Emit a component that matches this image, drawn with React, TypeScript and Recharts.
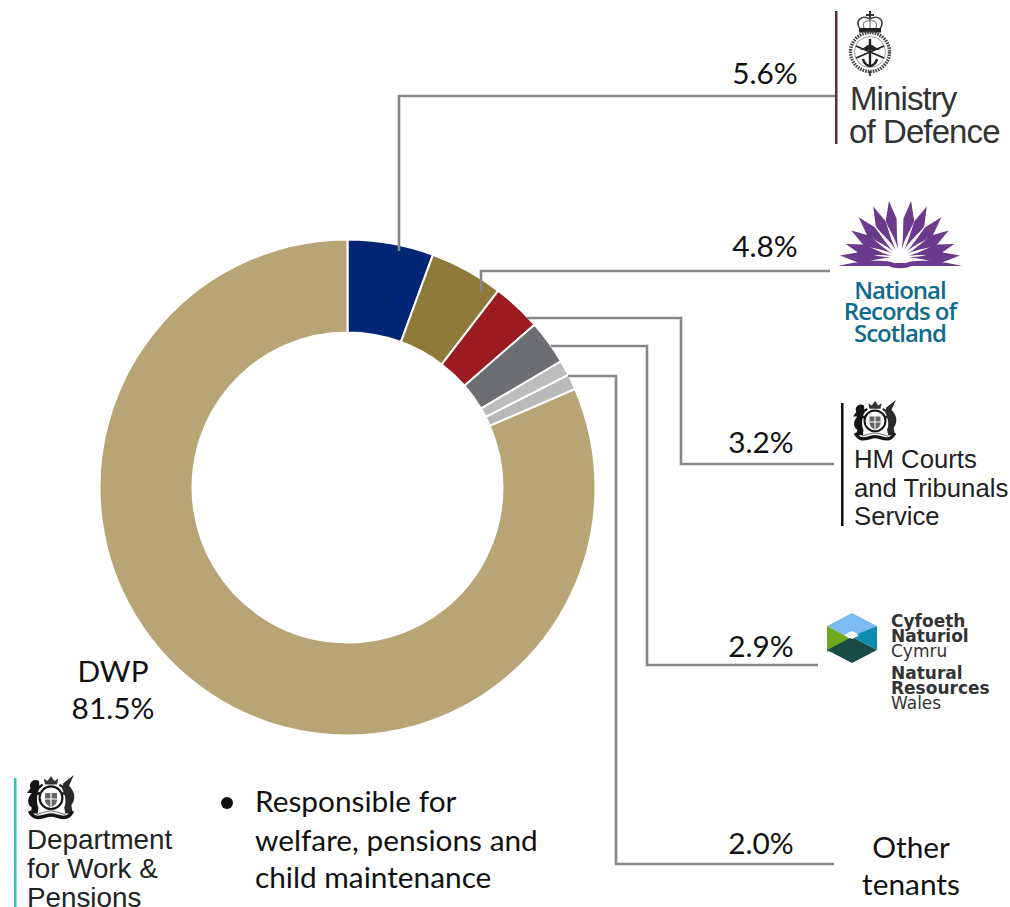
import React from "react";
import { PieChart, Pie, Cell } from "recharts";

// Occupancy share by tenant, in per cent
const tenants = ["Ministry of Defence", "National Records of Scotland", "HM Courts and Tribunals Service", "Natural Resources Wales", "Other tenants A", "Other tenants B", "DWP"];
const shares = [5.6, 4.8, 3.2, 2.9, 1.0, 1.0, 81.5];
const colours = ["#002776", "#8F7A3A", "#9B1C20", "#6D6E71", "#BCBEBC", "#B9B9B9", "#B8A576"];
const pieData = tenants.map((name, i) => ({ name, value: shares[i] }));

const LINE = "#86868A";
const INK = "#111";
const UI = "Lato, sans-serif";
const LOGO = "'Liberation Sans', Arial, sans-serif";

const pct = (v: number) => `${v.toFixed(1)}%`;

// Simplified royal coat of arms: garter and shield, crown, rearing lion and unicorn, motto ribbon
function RoyalArms({ x, y, s = 1 }: { x: number; y: number; s?: number }) {
  return (
    <g transform={`translate(${x} ${y}) scale(${s})`} fill="#141414">
      <path d="M-5 -12 L-6 -17 L-3 -15 L0 -19 L3 -15 L6 -17 L5 -12 Z" fill="#333" />
      <circle cx={0} cy={-1} r={9.5} fill="#fff" stroke="#141414" strokeWidth={1.8} />
      <path d="M-5 -5 H5 V1 C5 4 2 6 0 7 C-2 6 -5 4 -5 1 Z" fill="#666" />
      <path d="M0 -5 V7 M-5 0 H5" stroke="#fff" strokeWidth={1} />
      {/* lion */}
      <path d="M-10 -15 C-15 -18 -19 -13 -17 -9 L-20 -5 L-16 -5 C-20 -1 -20 5 -16 7 L-17 12 L-11 12 L-10.5 7 C-12.5 3 -12 -4 -9.5 -9 Z" />
      <path d="M-11 -9 L-7 -12 M-12 -4 L-9 -5" stroke="#141414" strokeWidth={2} />
      {/* unicorn */}
      <path d="M10 -13 L19 -20 L15 -11 C20 -6 21 0 17 5 L18 12 L12 12 L11 7 C13 3 12 -4 9.5 -8 Z" fill="#2a2a2a" />
      <path d="M11 -9 L7 -12 M12 -4 L9 -5" stroke="#2a2a2a" strokeWidth={2} />
      <path d="M-18 10 C-14 18 -8 15 -4 14 C-1 13 1 13 4 14 C8 15 14 18 18 10" fill="none" stroke="#141414" strokeWidth={3} />
      <path d="M-12 13 C-6 11 -3 10 0 10 C3 10 6 11 12 13" fill="none" stroke="#777" strokeWidth={1} />
    </g>
  );
}

// Simplified Ministry of Defence badge: crown over a rope ring with anchor and crossed arms
function DefenceBadge({ x, y }: { x: number; y: number }) {
  return (
    <g transform={`translate(${x} ${y})`}>
      <path d="M-1 -41 h2 v3 h3 v2 h-3 v3 h-2 v-3 h-3 v-2 h3 Z" fill="#333" />
      <path d="M-10 -23 C-16 -33 -7 -37 0 -33 C7 -37 16 -33 10 -23 Z" fill="#fff" stroke="#444" strokeWidth={1.6} />
      <path d="M-6 -24 C-8 -30 -4 -32 0 -31 C4 -32 8 -30 6 -24 M0 -33 V-24" fill="none" stroke="#666" strokeWidth={1} />
      <rect x={-11} y={-24} width={22} height={4.5} fill="#222" />
      <circle cx={0} cy={0} r={19.5} fill="none" stroke="#444" strokeWidth={3.4} strokeDasharray="1.6 1" />
      <circle cx={0} cy={0} r={15.5} fill="none" stroke="#888" strokeWidth={0.8} />
      <path d="M0 -13 V14 M-7 7 C-6 12 -2 14 0 14 C2 14 6 12 7 7 M-4 -5 H4" fill="none" stroke="#222" strokeWidth={2.4} />
      <path d="M-14 -6 L14 6 M14 -6 L-14 6" stroke="#222" strokeWidth={1.8} />
      <path d="M-10 -2 H10 L0 -8 Z" fill="#222" />
      <path d="M0 19 V24" stroke="#444" strokeWidth={2} />
    </g>
  );
}

// National Records of Scotland emblem: an open book with fanned purple leaves
const FAN_ANGLES = [-88, -76, -61, -46, -28, -11.5, 11.5, 28, 46, 61, 76, 88];
const FAN_LENGTHS = [60, 56, 56, 58, 58, 58, 58, 58, 58, 56, 56, 60];
function RecordsEmblem({ x, y }: { x: number; y: number }) {
  return (
    <g transform={`translate(${x} ${y})`} fill="#6B3A8C">
      {FAN_ANGLES.map((a, i) => {
        const l = FAN_LENGTHS[i];
        const side = a < 0 ? -1 : 1;
        return (
          <path
            key={a}
            transform={`rotate(${a})`}
            d={`M0 -9 C${side * 1} ${-l * 0.4} ${side * 6} ${-l * 0.55} ${side * 6.5} ${-l * 0.68} L${side * -0.5} ${-l} L${side * -4.5} ${-l * 0.68} C${side * -3} ${-l * 0.5} ${side * -1} ${-l * 0.4} 0 -9 Z`}
          />
        );
      })}
      <circle cx={0} cy={0} r={7} fill="#fff" />
      <path d="M-62 8 C-40 3 -15 1 -6 5 H6 C15 1 40 3 62 8 H11 C7 11 -7 11 -11 8 Z" />
    </g>
  );
}

// Natural Resources Wales hexagon mark
function WalesHexagon({ x, y }: { x: number; y: number }) {
  return (
    <g transform={`translate(${x} ${y})`}>
      <path d="M0 -25 L25 -12 L8 -3 L0 -7 L-8 -3 L-25 -12 Z" fill="#7DBBF5" />
      <path d="M25 -12 V12 L8 3 L0 -1 L8 -5 Z" fill="#0B8CB0" />
      <path d="M-25 -12 L-8 -3 L0 2 L-8 6 L-25 14 Z" fill="#6FAA1E" />
      <path d="M0 25 L-25 12 L0 -1 L25 12 Z" fill="#1A4A45" />
      <path d="M0 -6 L7 -2.5 L0 1 L-7 -2.5 Z" fill="#fff" />
    </g>
  );
}

export default function App() {
  return (
    <div style={{ position: "absolute", left: 0, top: 0, width: 1010, height: 907, background: "#fff", overflow: "hidden" }}>
      <PieChart width={1010} height={907} margin={{ top: 0, right: 0, bottom: 0, left: 0 }}>
        <Pie
          data={pieData}
          dataKey="value"
          nameKey="name"
          cx={347.5}
          cy={487.5}
          innerRadius={155}
          outerRadius={248}
          startAngle={90}
          endAngle={-270}
          stroke="#fff"
          strokeWidth={2}
          isAnimationActive={false}
          label={false}
          labelLine={false}
        >
          {pieData.map((d, i) => (
            <Cell key={d.name} fill={colours[i]} />
          ))}
        </Pie>
      </PieChart>
      <svg width={1010} height={907} style={{ position: "absolute", left: 0, top: 0 }}>
        {/* Leader lines from each slice out to its tenant */}
        <g fill="none" stroke={LINE} strokeWidth={2.6}>
          <polyline points="399,251 399,96 836,96" />
          <polyline points="481,292 481,271 830,271" />
          <polyline points="527,318 681,318 681,464 834,464" />
          <polyline points="551,346 647,346 647,665 818,665" />
          <polyline points="568,376 616,376 616,864 834,864" />
        </g>

        <g fontFamily={UI} fontSize={29.8} fill={INK} textAnchor="middle">
          <text x={765} y={84}>{pct(shares[0])}</text>
          <text x={765} y={257}>{pct(shares[1])}</text>
          <text x={761} y={453}>{pct(shares[2])}</text>
          <text x={761} y={657}>{pct(shares[3])}</text>
          <text x={761} y={854}>{pct(shares[4] + shares[5])}</text>
          <text x={113} y={682}>DWP</text>
          <text x={113} y={719}>{pct(shares[6])}</text>
          <text x={911} y={858}>Other</text>
          <text x={911} y={895}>tenants</text>
        </g>

        {/* Ministry of Defence */}
        <rect x={835} y={11} width={2.5} height={133} fill="#5B2E3C" />
        <DefenceBadge x={870} y={52} />
        <g fontFamily={LOGO} fontSize={33} fill="#333">
          <text x={850} y={110} letterSpacing={-0.9}>Ministry</text>
          <text x={849} y={143} letterSpacing={-0.9}>of Defence</text>
        </g>

        {/* National Records of Scotland */}
        <RecordsEmblem x={900} y={258} />
        <g fontFamily="'Open Sans', sans-serif" fontSize={24} fontWeight={600} fill="#0F6A8C" textAnchor="middle" letterSpacing={-1}>
          <text x={900} y={299}>National</text>
          <text x={900} y={320}>Records of</text>
          <text x={900} y={342}>Scotland</text>
        </g>

        {/* HM Courts and Tribunals Service */}
        <rect x={841} y={403} width={2.5} height={123} fill="#111" />
        <RoyalArms x={875} y={422} s={1.1} />
        <g fontFamily={LOGO} fontSize={25.7} fill="#222">
          <text x={854} y={468}>HM Courts</text>
          <text x={854} y={497}>and Tribunals</text>
          <text x={854} y={525}>Service</text>
        </g>

        {/* Natural Resources Wales */}
        <WalesHexagon x={852} y={638} />
        <g fontFamily="'DejaVu Sans', sans-serif" fontSize={17} fill="#333">
          <text x={891} y={627} fontWeight={700}>Cyfoeth</text>
          <text x={891} y={642} fontWeight={700}>Naturiol</text>
          <text x={891} y={657}>Cymru</text>
          <text x={891} y={679} fontWeight={700}>Natural</text>
          <text x={891} y={694} fontWeight={700}>Resources</text>
          <text x={891} y={709}>Wales</text>
        </g>

        {/* Department for Work & Pensions */}
        <rect x={14} y={778} width={2.5} height={129} fill="#2BC8BE" />
        <RoyalArms x={51} y={799} s={1.2} />
        <g fontFamily={LOGO} fontSize={27.8} fill="#222">
          <text x={27} y={849}>Department</text>
          <text x={27} y={878}>for Work &amp;</text>
          <text x={27} y={907}>Pensions</text>
        </g>

        <circle cx={227} cy={803} r={6} fill="#111" />
        <g fontFamily={UI} fontSize={29.8} fill={INK}>
          <text x={255} y={812}>Responsible for</text>
          <text x={255} y={851}>welfare, pensions and</text>
          <text x={255} y={888}>child maintenance</text>
        </g>
      </svg>
    </div>
  );
}
